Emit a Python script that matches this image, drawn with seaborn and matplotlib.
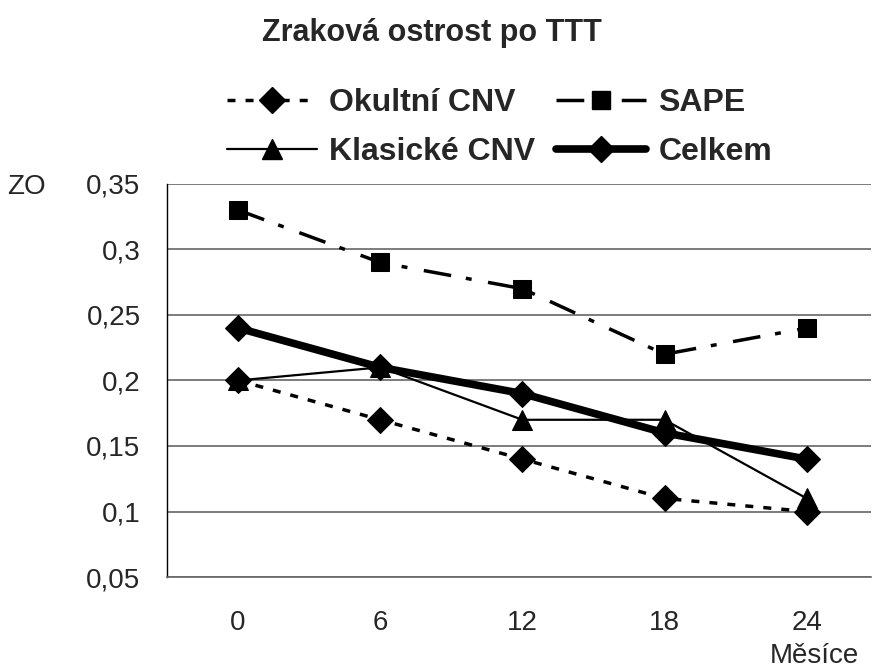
import numpy as np
import pandas as pd
import matplotlib
matplotlib.use("Agg")
import matplotlib.pyplot as plt
import seaborn as sns
from matplotlib.lines import Line2D

months = ["0", "6", "12", "18", "24"]
okultni = [0.20, 0.17, 0.14, 0.11, 0.10]
sape = [0.33, 0.29, 0.27, 0.22, 0.24]
klasicke = [0.20, 0.21, 0.17, 0.17, 0.11]
celkem = [0.24, 0.21, 0.19, 0.16, 0.14]
yticks = [0.05, 0.1, 0.15, 0.2, 0.25, 0.3, 0.35]
ytick_labels = ["0,05", "0,1", "0,15", "0,2", "0,25", "0,3", "0,35"]

sns.set_style("white")
plt.rcParams["font.family"] = ["Liberation Sans", "DejaVu Sans"]

fig = plt.figure(figsize=(8.72, 6.71), dpi=100)
ax = fig.add_axes([0.1915, 0.14, 0.807, 0.586])

pos = np.arange(len(months))
series = [
    ("Okultní CNV", okultni, (0, (2.3, 2.9)), "D", 2.5, 13),
    ("SAPE", sape, (0, (8, 4.3, 1.7, 4.8)), "s", 2.5, 13),
    ("Klasické CNV", klasicke, "-", "^", 1.6, 14),
    ("Celkem", celkem, "-", "D", 5.5, 13),
]
handles = {}
for name, vals, ls, mk, lw, ms in series:
    df = pd.DataFrame({"x": pos, "y": vals})
    sns.lineplot(data=df, x="x", y="y", ax=ax, color="black", linestyle=ls,
                 linewidth=lw, marker=mk, markersize=ms, markeredgecolor="black",
                 markerfacecolor="black")
    handles[name] = Line2D([], [], color="black", linestyle=ls, linewidth=lw,
                           marker=mk, markersize=ms, label=name)

ax.set_xlim(-0.5, 4.45)
ax.set_ylim(0.05, 0.35)
ax.set_yticks(yticks)
ax.set_yticklabels(ytick_labels, fontsize=20)
ax.set_xticks(pos)
ax.set_xticklabels(months, fontsize=20)
ax.set_xticks(np.arange(-0.5, 4.5, 1.0), minor=True)
ax.tick_params(axis="x", which="major", length=0, pad=24)
ax.tick_params(axis="x", which="minor", length=9, width=1, color="#666666", direction="out")
ax.tick_params(axis="y", length=9, width=1, color="#666666", direction="out", pad=10)
ax.yaxis.grid(True, color="#666666", linewidth=1.2)
ax.set_axisbelow(True)
for s in ["top", "right"]:
    ax.spines[s].set_visible(False)
ax.spines["left"].set_color("black")
ax.spines["left"].set_linewidth(1)
ax.spines["bottom"].set_color("#666666")
ax.spines["bottom"].set_linewidth(1.2)
ax.set_xlabel("")
ax.set_ylabel("")

fig.text(0.495, 0.951, "Zraková ostrost po TTT", ha="center", va="center",
         fontsize=22, fontweight="bold")
fig.text(0.008, 0.722, "ZO", ha="left", va="center", fontsize=20)
fig.text(0.985, 0.003, "Měsíce", ha="right", va="bottom", fontsize=20)

order = ["Okultní CNV", "Klasické CNV", "SAPE", "Celkem"]
fig.legend(handles=[handles[n] for n in order], loc="center", bbox_to_anchor=(0.573, 0.81),
           ncol=2, frameon=False, prop={"weight": "bold", "size": 23}, handlelength=2.8,
           columnspacing=0.65, handletextpad=0.4, labelspacing=0.58)

fig.savefig("out.png", dpi=100)
